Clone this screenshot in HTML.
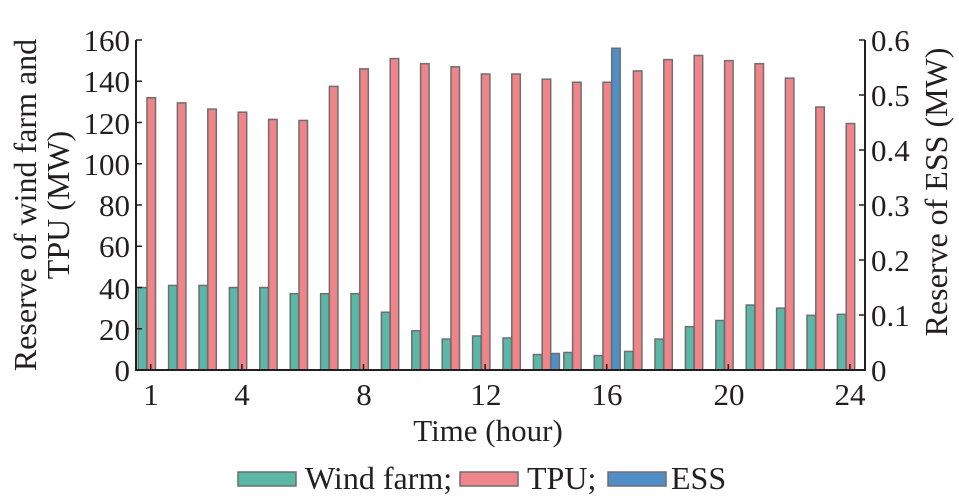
<!DOCTYPE html>
<html><head><meta charset="utf-8"><style>
html,body{margin:0;padding:0;background:#fff;}
svg text{font-family:"Liberation Serif",serif;fill:#231f20;}
</style></head><body>
<svg id="s" width="959" height="498" viewBox="0 0 959 498" xmlns="http://www.w3.org/2000/svg">
<g id="bars"></g>
<g stroke="#231f20" stroke-width="2" fill="none">
<line x1="136" y1="40" x2="136" y2="371"/>
<line x1="865" y1="40" x2="865" y2="371"/>
<line x1="135" y1="370" x2="866" y2="370"/>
</g>
<g id="ticks" stroke="#231f20" stroke-width="1.5"></g>
<g font-size="31" text-anchor="end">
<text x="130" y="51">160</text><text x="130" y="92">140</text><text x="130" y="134">120</text>
<text x="130" y="175">100</text><text x="130" y="216">80</text><text x="130" y="257">60</text>
<text x="130" y="299">40</text><text x="130" y="340">20</text><text x="130" y="381">0</text>
</g>
<g font-size="31" text-anchor="start">
<text x="871" y="51">0.6</text><text x="871" y="106">0.5</text><text x="871" y="161">0.4</text>
<text x="871" y="216">0.3</text><text x="871" y="271">0.2</text><text x="871" y="326">0.1</text>
<text x="871" y="381">0</text>
</g>
<g font-size="31" text-anchor="middle">
<text x="151" y="405">1</text><text x="242" y="405">4</text><text x="364" y="405">8</text>
<text x="486" y="405">12</text><text x="607" y="405">16</text><text x="729" y="405">20</text>
<text x="850" y="405">24</text>
<text x="488" y="441">Time (hour)</text>
</g>
<g font-size="32" text-anchor="middle">
<text transform="translate(36,205) rotate(-90)">Reserve of wind farm and</text>
<text transform="translate(69,205) rotate(-90)">TPU (MW)</text>
<text transform="translate(947,192) rotate(-90)">Reserve of ESS (MW)</text>
</g>
<g stroke="#6d6e71" stroke-width="1.5">
<rect x="238" y="472" width="58" height="14" fill="#5bb8a6"/>
<rect x="460" y="472" width="58" height="14" fill="#f08488"/>
<rect x="608" y="472" width="58" height="14" fill="#4f8ec6"/>
</g>
<g font-size="32">
<text x="305" y="489">Wind farm;</text>
<text x="527" y="489">TPU;</text>
<text x="671" y="489">ESS</text>
</g>
</svg>
<script>
var W=[40,41,41,40,40,37,37,37,28,19,15,16.5,15.5,7.5,8.5,7,9,15,21,24,31.5,30,26.5,27];
var T=[132,129.5,126.5,125,121.5,121,137.5,146,151,148.5,147,143.5,143.5,141,139.5,139.5,145,150.5,152.5,150,148.5,141.5,127.5,119.5];
var E={14:0.03,16:0.585};
var ns="http://www.w3.org/2000/svg",g=document.getElementById('bars'),tk=document.getElementById('ticks');
function r(x,h,c){if(h<=0)return;var e=document.createElementNS(ns,'rect');e.setAttribute('x',x);e.setAttribute('y',370-h);e.setAttribute('width',8.5);e.setAttribute('height',h);e.setAttribute('fill',c);e.setAttribute('stroke','#6d6e71');e.setAttribute('stroke-width','1.5');g.appendChild(e);}
function l(x1,y1,x2,y2){var e=document.createElementNS(ns,'line');e.setAttribute('x1',x1);e.setAttribute('y1',y1);e.setAttribute('x2',x2);e.setAttribute('y2',y2);tk.appendChild(e);}
for(var i=0;i<24;i++){var t=150.7+i*30.4;
r(t-12.5,W[i]*2.0625,'#5bb8a6');r(t-3.7,T[i]*2.0625,'#f08488');
if(E[i+1])r(t+5,E[i+1]*550,'#4f8ec6');}
[1,4,8,12,16,20,24].forEach(function(h){var t=150.7+(h-1)*30.4;l(t,370,t,364);});
for(var k=0;k<=8;k++){var y=370-k*41.25;l(136,y,142,y);}
for(var k=0;k<=6;k++){var y=370-k*55;l(865,y,859,y);}
</script>
</body></html>
